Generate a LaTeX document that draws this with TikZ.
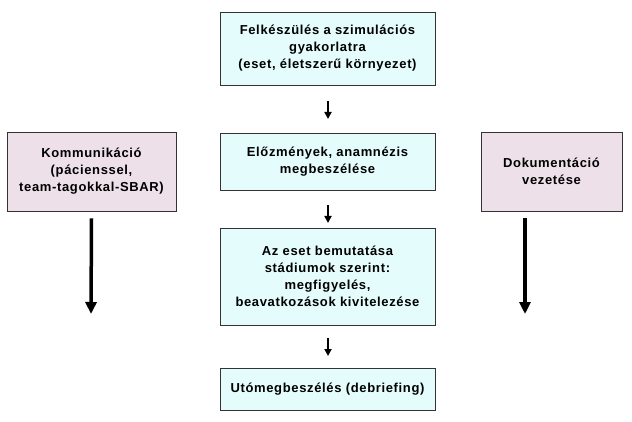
\documentclass[tikz,border=0pt]{standalone}
\usepackage{fontspec}
\setmainfont{Liberation Sans}[LetterSpace=5]
\usetikzlibrary{arrows.meta}
\definecolor{cy}{HTML}{E4FCFC}
\definecolor{pk}{HTML}{EEE0E8}
\begin{document}
\begin{tikzpicture}[x=1pt,y=-1pt,
  box/.style={draw=black!80,line width=0.7pt,align=center,font=\bfseries\fontsize{13}{17}\selectfont,inner sep=0pt},
  cbox/.style={box,fill=cy,minimum width=215pt},
  sbox/.style={box,fill=pk},
  sarr/.style={-{Triangle[length=7pt,width=7pt]},line width=1.8pt},
  barr/.style={-{Triangle[length=12pt,width=11pt]},line width=3.5pt}]
\useasboundingbox (0,0) rectangle (632,422);
\node[cbox,minimum height=73pt] (b1) at (327.5,48.5) {Felkészülés a szimulációs\\gyakorlatra\\(eset, életszerű környezet)};
\node[cbox,minimum height=57pt] (b2) at (327.5,161.5) {Előzmények, anamnézis\\megbeszélése};
\node[cbox,minimum height=97pt] (b3) at (327.5,276.5) {Az eset bemutatása\\stádiumok szerint:\\megfigyelés,\\beavatkozások kivitelezése};
\node[cbox,minimum height=42pt] (b4) at (327.5,389) {Utómegbeszélés (debriefing)};
\node[sbox,minimum width=169pt,minimum height=79pt] (l) at (91.5,171.5) {Kommunikáció\\(pácienssel,\\team-tagokkal-SBAR)};
\node[sbox,minimum width=141pt,minimum height=79pt] (r) at (551.5,171.5) {Dokumentáció\\vezetése};
\coordinate (a1s) at (328,101); \coordinate (a1e) at (328,119);
\coordinate (a2s) at (328,205); \coordinate (a2e) at (328,223);
\coordinate (a3s) at (328,338); \coordinate (a3e) at (328,356);
\draw[sarr] (a1s) -- (a1e);
\draw[sarr] (a2s) -- (a2e);
\draw[sarr] (a3s) -- (a3e);
\coordinate (le) at (91,314); \coordinate (re) at (525,314);
\draw[barr] (l.south) ++(0,7) -- (le);
\draw[barr] (525,218) -- (re);
\end{tikzpicture}
\end{document}
